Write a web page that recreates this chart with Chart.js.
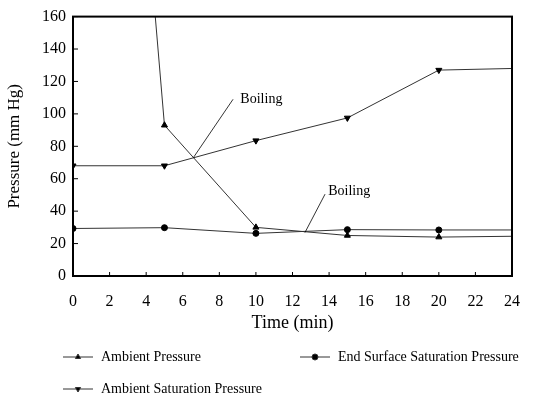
<!DOCTYPE html>
<html>
<head>
<meta charset="utf-8">
<script src="https://cdn.jsdelivr.net/npm/chart.js@4/dist/chart.umd.min.js"></script>
<style>
  html, body { margin: 0; padding: 0; background: #fff; }
  #wrap { width: 547px; height: 406px; }
</style>
</head>
<body>
<div id="wrap"><canvas id="chart"></canvas></div>
<script>
const timeMin = [0, 5, 10, 15, 20, 24];
const ambientPressure = [760, 93, 30, 25, 24, 24.5];
const ambientSatPressure = [68, 68, 83.5, 97.5, 127, 128];
const endSurfaceSatPressure = [29.3, 29.8, 26.3, 28.6, 28.4, 28.4];
const xTicks = [0, 2, 4, 6, 8, 10, 12, 14, 16, 18, 20, 22, 24];
const yTicks = [0, 20, 40, 60, 80, 100, 120, 140, 160];

// annotation text position + leader line (data coordinates)
const boilingNotes = [
    { text: 'Boiling', at: [9.15, 109], from: [8.75, 109], to: [6.58, 73] },
    { text: 'Boiling', at: [13.95, 52.5], from: [13.78, 50.5], to: [12.68, 26.8] }
];

const SERIF = '"Liberation Serif", "DejaVu Serif", serif';
const triSizes = [3.5, 3.5, 3.5, 3.5, 3.5, 0];
const dotSizes = [3, 3, 3, 3, 3, 0];

const toPoints = (ys) => timeMin.map((x, i) => ({ x, y: ys[i] }));

const framePlugin = {
    id: 'frame',
    afterDraw(chart) {
        const { ctx, chartArea: a, scales } = chart;
        ctx.save();
        ctx.strokeStyle = '#000';
        // inward tick marks
        ctx.lineWidth = 1;
        ctx.beginPath();
        xTicks.forEach(v => {
            const px = scales.x.getPixelForValue(v);
            ctx.moveTo(px, a.bottom);
            ctx.lineTo(px, a.bottom - 4);
        });
        yTicks.forEach(v => {
            const py = scales.y.getPixelForValue(v);
            ctx.moveTo(a.left, py);
            ctx.lineTo(a.left + 5, py);
        });
        ctx.stroke();
        // box
        ctx.lineWidth = 2;
        ctx.strokeRect(a.left, a.top, a.right - a.left, a.bottom - a.top);

        // annotations
        ctx.font = '14px ' + SERIF;
        ctx.fillStyle = '#000';
        ctx.textBaseline = 'middle';
        ctx.textAlign = 'left';
        ctx.lineWidth = 0.8;
        boilingNotes.forEach(n => {
            ctx.fillText(n.text, scales.x.getPixelForValue(n.at[0]), scales.y.getPixelForValue(n.at[1]));
            ctx.beginPath();
            ctx.moveTo(scales.x.getPixelForValue(n.from[0]), scales.y.getPixelForValue(n.from[1]));
            ctx.lineTo(scales.x.getPixelForValue(n.to[0]), scales.y.getPixelForValue(n.to[1]));
            ctx.stroke();
        });

        // legend
        const items = [
            { ds: 0, x: 63, y: 357 },
            { ds: 2, x: 300, y: 357 },
            { ds: 1, x: 63, y: 389 }
        ];
        items.forEach(it => {
            const ds = chart.data.datasets[it.ds];
            ctx.strokeStyle = ds.borderColor;
            ctx.lineWidth = 1;
            ctx.beginPath();
            ctx.moveTo(it.x, it.y);
            ctx.lineTo(it.x + 30, it.y);
            ctx.stroke();
            Chart.helpers.drawPoint(ctx, {
                pointStyle: ds.pointStyle,
                rotation: ds.pointRotation || 0,
                radius: 3,
                borderWidth: 1
            }, it.x + 15, it.y);
            ctx.fillStyle = '#000';
            ctx.fillText(ds.label, it.x + 38, it.y);
        });
        ctx.restore();
    }
};

new Chart(document.getElementById('chart'), {
    type: 'line',
    data: {
        datasets: [
            {
                label: 'Ambient Pressure',
                data: toPoints(ambientPressure),
                borderColor: '#333',
                backgroundColor: '#000',
                pointBorderColor: '#000',
                pointStyle: 'triangle',
                pointRadius: triSizes,
                borderWidth: 1
            },
            {
                label: 'Ambient Saturation Pressure',
                data: toPoints(ambientSatPressure),
                borderColor: '#333',
                backgroundColor: '#000',
                pointBorderColor: '#000',
                pointStyle: 'triangle',
                pointRotation: 180,
                pointRadius: triSizes,
                borderWidth: 1
            },
            {
                label: 'End Surface Saturation Pressure',
                data: toPoints(endSurfaceSatPressure),
                borderColor: '#333',
                backgroundColor: '#000',
                pointBorderColor: '#000',
                pointStyle: 'circle',
                pointRadius: dotSizes,
                borderWidth: 1
            }
        ]
    },
    options: {
        responsive: true,
        maintainAspectRatio: false,
        animation: false,
        layout: { padding: { left: 0, top: 13, right: 35, bottom: 72 } },
        plugins: {
            legend: { display: false },
            tooltip: { enabled: false }
        },
        scales: {
            x: {
                type: 'linear',
                min: 0,
                max: 24,
                afterBuildTicks: (s) => { s.ticks = xTicks.map(v => ({ value: v })); },
                afterFit: (s) => { s.height = 58; },
                grid: { display: false, drawTicks: false },
                border: { display: false },
                ticks: {
                    padding: 16,
                    color: '#000',
                    maxRotation: 0,
                    font: { family: SERIF, size: 16 }
                },
                title: {
                    display: true,
                    text: 'Time (min)',
                    color: '#000',
                    padding: { top: 4, bottom: 0 },
                    font: { family: SERIF, size: 18 }
                }
            },
            y: {
                min: 0,
                max: 160,
                afterBuildTicks: (s) => { s.ticks = yTicks.map(v => ({ value: v })); },
                afterFit: (s) => { s.width = 73; },
                grid: { display: false, drawTicks: false },
                border: { display: false },
                ticks: {
                    padding: 7,
                    color: '#000',
                    font: { family: SERIF, size: 16 }
                },
                title: {
                    display: true,
                    text: 'Pressure (mm Hg)',
                    color: '#000',
                    padding: { bottom: 0 },
                    font: { family: SERIF, size: 17 }
                }
            }
        }
    },
    plugins: [framePlugin]
});
</script>
</body>
</html>
